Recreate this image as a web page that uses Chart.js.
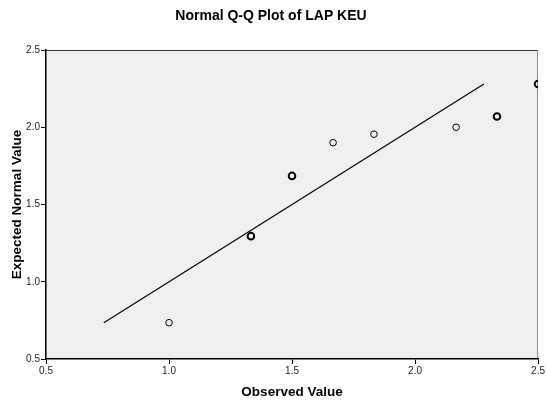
<!DOCTYPE html>
<html lang="en">

<head>
    <meta charset="UTF-8">
    <title>Normal Q-Q Plot of LAP KEU</title>
    <script src="https://cdn.jsdelivr.net/npm/chart.js"></script>
    <style>
        body {
            margin: 0;
            background: #fff;
        }

        .wrap {
            width: 546px;
            height: 401px;
        }
    </style>
</head>

<body>
    <div class="wrap"><canvas id="chart"></canvas></div>

    <script>
        // observed values and their expected normal values
        const observed = [1.0, 1.333, 1.5, 1.667, 1.833, 2.167, 2.333, 2.5];
        const expected = [0.735, 1.295, 1.685, 1.9, 1.955, 2.0, 2.07, 2.28];
        // repeated observations are drawn heavier
        const repeats = [1, 2, 2, 1, 1, 1, 2, 2];
        // reference line ends
        const lineEnds = [0.735, 2.28];
        const axisTicks = [0.5, 1.0, 1.5, 2.0, 2.5];

        const font = "'Liberation Sans', Arial, sans-serif";

        const plotFrame = {
            id: 'plotFrame',
            beforeDraw(chart) {
                const { ctx, chartArea: a } = chart;
                ctx.save();
                ctx.fillStyle = '#f0f0f0';
                ctx.fillRect(a.left, a.top, a.right - a.left, a.bottom - a.top);
                ctx.strokeStyle = '#333';
                ctx.lineWidth = 1;
                ctx.beginPath();
                ctx.moveTo(a.left, a.top + 0.5);
                ctx.lineTo(a.right, a.top + 0.5);
                ctx.stroke();
                ctx.strokeStyle = '#888';
                ctx.beginPath();
                ctx.moveTo(a.right - 0.5, a.top);
                ctx.lineTo(a.right - 0.5, a.bottom);
                ctx.stroke();
                ctx.restore();
            }
        };

        new Chart(document.getElementById('chart'), {
            type: 'scatter',
            data: {
                datasets: [{
                    data: lineEnds.map(v => ({ x: v, y: v })),
                    showLine: true,
                    borderColor: '#000',
                    borderWidth: 1.2,
                    pointRadius: 0
                }, {
                    data: observed.map((v, i) => ({ x: v, y: expected[i] })),
                    pointStyle: 'circle',
                    pointRadius: 3.3,
                    backgroundColor: 'rgba(0,0,0,0)',
                    borderColor: '#000',
                    pointBorderWidth: repeats.map(r => r > 1 ? 2 : 1)
                }]
            },
            options: {
                responsive: true,
                maintainAspectRatio: false,
                animation: false,
                layout: {
                    autoPadding: false,
                    padding: { top: 0, left: 0, right: 4, bottom: 0 }
                },
                plugins: {
                    legend: { display: false },
                    tooltip: { enabled: false },
                    title: {
                        display: true,
                        text: 'Normal Q-Q Plot of LAP KEU',
                        color: '#000',
                        font: { family: font, size: 14, weight: 'bold' },
                        padding: { top: 7.3, bottom: 25.9 }
                    }
                },
                scales: {
                    x: {
                        type: 'linear',
                        min: 0.5,
                        max: 2.5,
                        afterFit: s => { s.height = 42; },
                        afterBuildTicks: s => { s.ticks = axisTicks.map(v => ({ value: v })); },
                        grid: { drawOnChartArea: false, color: '#000', tickLength: 5 },
                        border: { color: '#000', width: 1.5 },
                        ticks: {
                            color: '#222',
                            padding: 1,
                            maxRotation: 0,
                            font: { family: font, size: 10 },
                            callback: v => v.toFixed(1)
                        },
                        title: {
                            display: true,
                            text: 'Observed Value',
                            color: '#000',
                            font: { family: font, size: 13.5, weight: 'bold' },
                            padding: { top: 0, bottom: 1 }
                        }
                    },
                    y: {
                        type: 'linear',
                        min: 0.5,
                        max: 2.5,
                        afterFit: s => { s.width = 46; },
                        afterBuildTicks: s => { s.ticks = axisTicks.map(v => ({ value: v })); },
                        grid: { drawOnChartArea: false, color: '#000', tickLength: 5 },
                        border: { color: '#000', width: 1.5 },
                        ticks: {
                            color: '#222',
                            padding: 1,
                            font: { family: font, size: 10 },
                            callback: v => v.toFixed(1)
                        },
                        title: {
                            display: true,
                            text: 'Expected Normal Value',
                            color: '#000',
                            font: { family: font, size: 13.5, weight: 'bold' },
                            padding: { top: 9, bottom: 0 }
                        }
                    }
                }
            },
            plugins: [plotFrame]
        });
    </script>
</body>

</html>
